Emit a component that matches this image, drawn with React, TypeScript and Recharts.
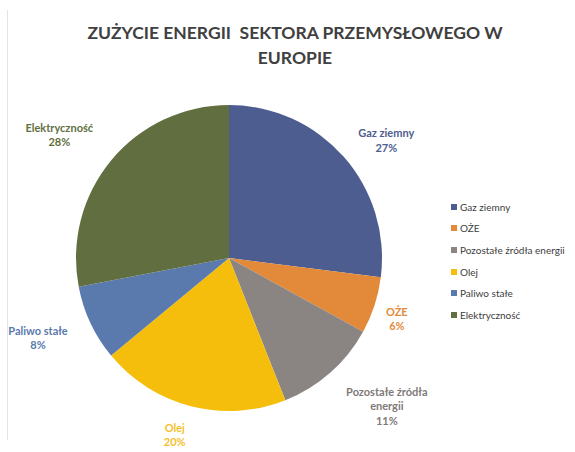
import { PieChart, Pie, Cell, Legend } from "recharts";

const names = ["Gaz ziemny", "OŻE", "Pozostałe źródła energii", "Olej", "Paliwo stałe", "Elektryczność"];
const shares = [27, 6, 11, 20, 8, 28];
const sliceColors = ["#4E5D8F", "#E3893A", "#8A8483", "#F6BE0C", "#5A7AAE", "#616F40"];
const labelColors = ["#4E5D8F", "#E3893A", "#7F7A79", "#F3C12C", "#5A7AAE", "#616F40"];
// small hand nudges so labels sit where Excel put them
const labelNudge = [
  [7, 14],
  [-5, 4],
  [15, -15],
  [-8, -4],
  [-4, -9],
  [-10, 8],
];

const data = names.map((name, i) => ({ name, value: shares[i] }));

const RAD = Math.PI / 180;
const FONT = "Lato, 'Open Sans', sans-serif";

function wrap(text: string, maxChars: number) {
  const words = text.split(" ");
  const lines: string[] = [];
  let cur = "";
  for (const w of words) {
    const next = cur ? cur + " " + w : w;
    if (next.length > maxChars && cur) {
      lines.push(cur);
      cur = w;
    } else cur = next;
  }
  if (cur) lines.push(cur);
  return lines;
}

function renderLabel(props: any) {
  const { cx, cy, midAngle, outerRadius, index, name, value } = props;
  const lines = [...wrap(name, 17), `${value}%`];
  const lineH = 14.5;
  const halfW = (Math.max(...lines.map((l) => l.length)) * 5.8) / 2;
  const halfH = (lines.length * lineH) / 2;
  const c = Math.cos(-midAngle * RAD);
  const s = Math.sin(-midAngle * RAD);
  const r = outerRadius + 16 + halfW * Math.abs(c) + halfH * Math.abs(s);
  const x = cx + r * c + labelNudge[index][0];
  const y = cy + r * s + labelNudge[index][1];
  const top = y - halfH + lineH / 2;
  return (
    <text
      x={x}
      y={top}
      textAnchor="middle"
      dominantBaseline="central"
      fill={labelColors[index]}
      fontFamily={FONT}
      fontWeight={700}
      fontSize={11}
    >
      {lines.map((l, i) => (
        <tspan key={i} x={x} y={top + i * lineH}>
          {l}
        </tspan>
      ))}
    </text>
  );
}

function LegendBox() {
  return (
    <div style={{ fontFamily: FONT, fontSize: 10, color: "#404040" }}>
      {names.map((n, i) => (
        <div key={n} style={{ display: "flex", alignItems: "center", height: 21.6 }}>
          <span style={{ width: 6, height: 6, background: sliceColors[i], marginRight: 3 }} />
          {n}
        </div>
      ))}
    </div>
  );
}

export default function App() {
  return (
    <div style={{ position: "absolute", left: 0, top: 0, width: 575, height: 452, background: "#fff" }}>
      <div style={{ position: "absolute", left: 7, top: 10, width: 1, height: 430, background: "#e4e4e4" }} />
      <div
        style={{
          position: "absolute",
          left: 0,
          top: 20,
          width: 590,
          textAlign: "center",
          fontFamily: FONT,
          fontWeight: 700,
          fontSize: 17.5,
          lineHeight: "25px",
          color: "#404040",
          whiteSpace: "pre",
        }}
      >
        {"ZUŻYCIE ENERGII  SEKTORA PRZEMYSŁOWEGO W\nEUROPIE"}
      </div>
      <PieChart
        width={575}
        height={452}
        margin={{ top: 0, right: 0, bottom: 0, left: 0 }}
        style={{ position: "absolute", left: 0, top: 0 }}
      >
        <Pie
          data={data}
          dataKey="value"
          nameKey="name"
          cx={229}
          cy={258}
          outerRadius={153}
          startAngle={90}
          endAngle={-270}
          stroke="none"
          label={renderLabel}
          labelLine={false}
          isAnimationActive={false}
        >
          {data.map((_, i) => (
            <Cell key={i} fill={sliceColors[i]} />
          ))}
        </Pie>
        <Legend
          layout="vertical"
          content={() => <LegendBox />}
          wrapperStyle={{ left: 451, top: 196, width: 124 }}
        />
      </PieChart>
    </div>
  );
}
